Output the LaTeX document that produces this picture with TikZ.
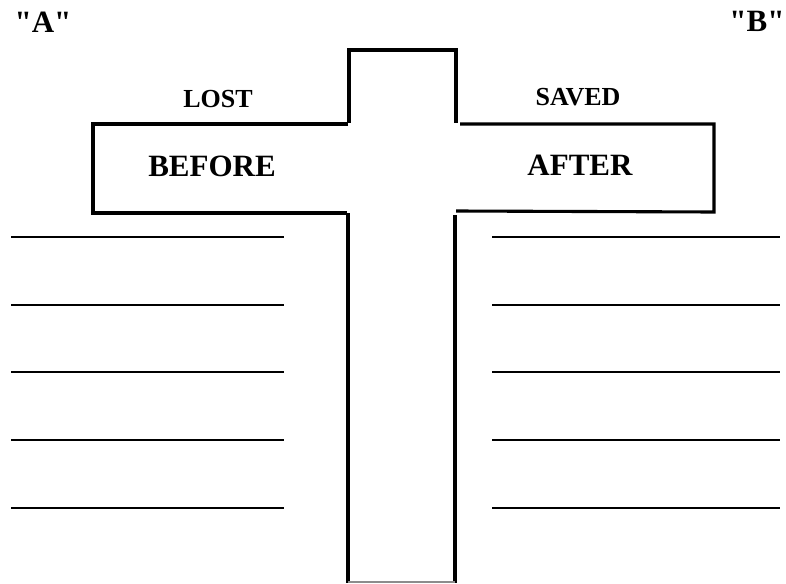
\documentclass[tikz,border=0pt]{standalone}
\usepackage{fontspec}
\setmainfont{Liberation Serif}
\usetikzlibrary{positioning}

\begin{document}
\begin{tikzpicture}[
    x=1pt, y=-1pt,
    every node/.style={inner sep=0pt},
    bigword/.style={font=\fontsize{31}{36}\selectfont\bfseries},
    smallword/.style={font=\fontsize{26}{30}\selectfont\bfseries},
    beam/.style={line width=3.1pt},
    blank/.style={line width=2pt},
]

\definecolor{inkcolor}{HTML}{000000}

\def\pl{349}   % post, left edge
\def\pr{456}   % post, right edge
\def\at{124}   % arms, top edge
\def\ab{212}   % arms, bottom edge
% straight double quote, taken as a glyph so the tex-text mapping leaves it alone
\def\dq{\XeTeXglyph\XeTeXcharglyph"22\relax}

% ================================================================
% One unit = one pixel of the 786 x 583 sheet, y pointing down.
%
%   post   x in [349, 456], y from 50 to 582
%   arms   x in [93, 714],  y in [124, 212]
%   blank lines  left  x = 11 .. 284,  right x = 492 .. 780
%                y = 237, 305, 372, 440, 508
% The outline is drawn piece by piece, with the small gaps
% at the corners where the arms meet the post.
% ================================================================

\useasboundingbox (0,0) rectangle (786,583);

% ---------------------------------------------------------------- the cross
\begin{scope}[inkcolor, beam]
  % head of the post
  \draw (\pl,\at-1) -- (\pl,50) -- (\pr,50) -- (\pr,\at-1);
  % left arm
  \draw (348,\at) -- (93,\at) -- (93,\ab+1) -- (347,\ab+1);
  % right arm
  \draw (460,\at) -- (714,\at) -- (714,\ab) -- (456,\ab-1);
  % foot of the post
  \draw (348,\ab+1) -- (348,583);
  \draw (455,\ab+3) -- (455,583);
  \draw[line width=1.4pt, inkcolor!45] (348,582) -- (455,582);
\end{scope}

% ---------------------------------------------------------------- words
\node[bigword] (quoteA) at (43,22) {\dq A\dq};
\node[bigword] (quoteB) at (757,21) {\dq B\dq};

\node[smallword] (lost)  at (218,99) {LOST};
\node[smallword] (saved) at (578,97) {SAVED};

\node[bigword] (before) at (212,166) {BEFORE};
\node[bigword] (after)  at (580,165) {AFTER};

% ---------------------------------------------------------------- blank lines
\foreach \y in {237, 305, 372, 440, 508} {
  \draw[blank, inkcolor] (11,\y) -- (284,\y);
  \draw[blank, inkcolor] (492,\y) -- (780,\y);
}

\end{tikzpicture}
\end{document}
